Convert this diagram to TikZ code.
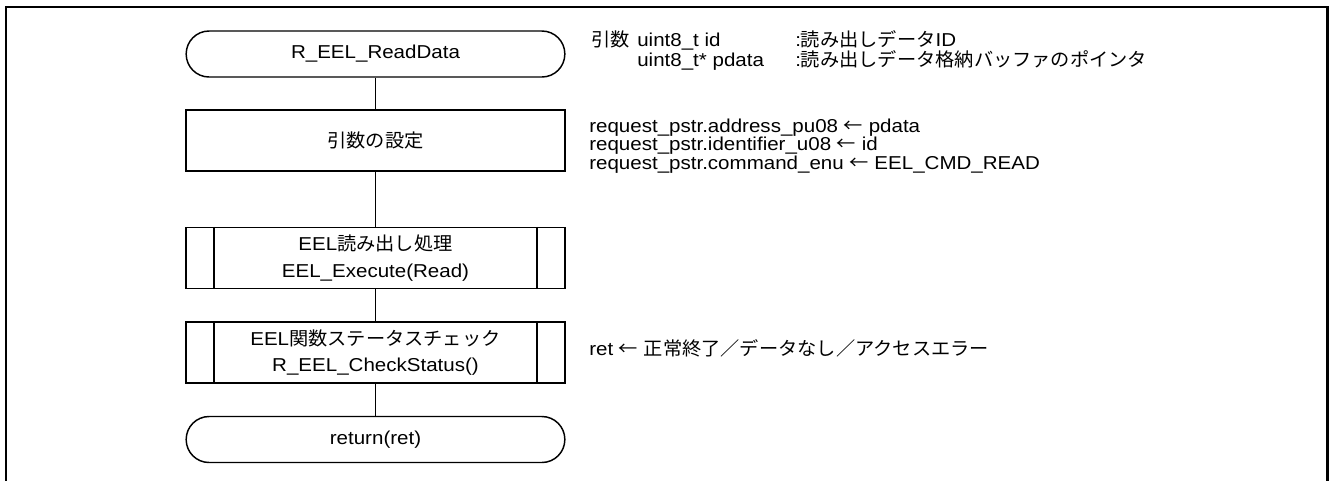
\documentclass[tikz,border=0pt]{standalone}
\usepackage{fontspec}
\setmainfont[FakeStretch=1.1]{Liberation Sans}
\newfontfamily\cjk[FakeStretch=1.03]{Noto Sans CJK JP}
\newcommand{\J}[1]{{\cjk #1}}
\begin{document}
\begin{tikzpicture}[x=0.75pt,y=-0.75pt,
  every node/.style={font=\fontsize{14}{15}\selectfont, inner sep=0pt},
  flowline/.style={line width=1.1pt},
  term/.style={draw, line width=1.1pt, rounded corners=17.2pt, minimum width=284pt, minimum height=34.5pt, align=center},
  proc/.style={draw, line width=1.1pt, minimum width=284pt, minimum height=45.75pt, align=center},
  note/.style={anchor=base west, align=left}]
\useasboundingbox (0,0) rectangle (1330,480);
\draw[line width=2.2pt] (6,482) -- (6,7) -- (1327.5,7) -- (1327.5,482);

\node[term] (start) at (375.5,54) {R\_EEL\_ReadData};
\node[proc] (set) at (375.5,140.5) {\J{引数の設定}};
\node[proc] (exe) at (375.5,258) {EEL\J{読み出し処理}\\[5pt]EEL\_Execute(Read)};
\node[proc] (chk) at (375.5,352.5) {EEL\J{関数ステータスチェック}\\[4pt]R\_EEL\_CheckStatus()};
\node[term] (ret) at (375.5,439.5) {return(ret)};

\foreach \n in {exe,chk}{
  \draw[flowline] ([xshift=21.5pt]\n.north west) -- ([xshift=21.5pt]\n.south west);
  \draw[flowline] ([xshift=-21.5pt]\n.north east) -- ([xshift=-21.5pt]\n.south east);
}
\draw[flowline] (start) -- (set);
\draw[flowline] (set) -- (exe);
\draw[flowline] (exe) -- (chk);
\draw[flowline] (chk) -- (ret);

\node[note] (a1) at (591,46) {\J{引数}};
\node[note] (a2) at (637,46) {uint8\_t id};
\node[note] (a3) at (795,46) {:\J{読み出しデータ}ID};
\node[note] (b2) at (637,66) {uint8\_t* pdata};
\node[note] (b3) at (795,66) {:\J{読み出しデータ格納バッファのポインタ}};

\node[note] (r1) at (589,132) {request\_pstr.address\_pu08 \J{←} pdata};
\node[note] (r2) at (589,150.5) {request\_pstr.identifier\_u08 \J{←} id};
\node[note] (r3) at (589,169) {request\_pstr.command\_enu \J{←} EEL\_CMD\_READ};

\node[note] (s1) at (589,355) {ret \J{←} \J{正常終了／データなし／アクセスエラー}};
\end{tikzpicture}
\end{document}
